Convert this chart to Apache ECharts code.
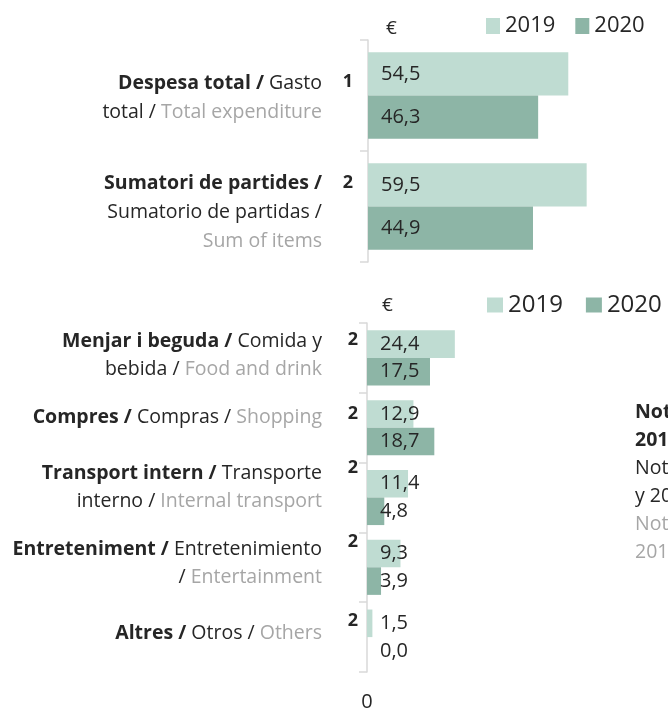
<!DOCTYPE html>
<html>
<head>
<meta charset="utf-8">
<script src="https://cdn.jsdelivr.net/npm/echarts@6/dist/echarts.min.js"></script>
<style>
  html, body { margin: 0; padding: 0; background: #ffffff; }
  #chart { width: 668px; height: 712px; }
</style>
</head>
<body>
<div id="chart"></div>
<script>
// ---- data ----
const years = ['2019', '2020'];

const totalCategories = ['Despesa total', 'Sumatori de partides'];
const total2019 = [54.5, 59.5];
const total2020 = [46.3, 44.9];

const itemCategories = ['Menjar i beguda', 'Compres', 'Transport intern', 'Entreteniment', 'Altres'];
const item2019 = [24.4, 12.9, 11.4, 9.3, 1.5];
const item2020 = [17.5, 18.7, 4.8, 3.9, 0.0];

// trilingual category captions (Catalan bold / Spanish / English grey)
const totalLabels = [
  '{b|Despesa total /} Gasto\ntotal / {g|Total expenditure}',
  '{b|Sumatori de partides /}\nSumatorio de partidas /\n{g|Sum of items}'
];
const itemLabels = [
  '{b|Menjar i beguda /} Comida y\nbebida / {g|Food and drink}',
  '{b|Compres /} Compras / {g|Shopping}',
  '{b|Transport intern /} Transporte\ninterno / {g|Internal transport}',
  '{b|Entreteniment /} Entretenimiento\n/ {g|Entertainment}',
  '{b|Altres /} Otros / {g|Others}'
];
const totalMarks = ['1', '2'];
const itemMarks = ['2', '2', '2', '2', '2'];
const itemAxisTicks = [0];

const noteLines = [
  ['b', 'Nota: despesa mitjana per persona,'],
  ['b', '2019 i 2020'],
  ['r', 'Nota: gasto medio por persona, 2019'],
  ['r', 'y 2020'],
  ['g', 'Note: average expenditure per person,'],
  ['g', '2019 and 2020']
];

// ---- styling ----
const FONT = '"Open Sans", "Noto Sans", sans-serif';
const DARK = '#262626';
const GREY = '#a6a6a6';
const AXIS = '#d9d9d9';
const C2019 = '#bfdcd2';
const C2020 = '#8db5a6';
const CAPTION_SIZE = 19.5;

// vertical nudges of the caption blocks relative to the band centre (px)
const totalLabelShift = [2, 5.5];
const itemLabelShift = [-2, -10.5, -10, -4, -3.5];
const totalMarkShift = [-13.5, -23.5];
const itemMarkShift = [-18, -13.5, -30, -25.5, -16.5];

const fmt = v => v.toFixed(1).replace('.', ',');

const valueLabel = {
  show: true,
  position: 'insideLeft',
  distance: 13,
  color: DARK,
  fontFamily: FONT,
  fontSize: 20,
  formatter: p => fmt(p.value)
};

function yAxisFor(gridIndex, cats) {
  return {
    type: 'category',
    gridIndex,
    data: cats,
    inverse: true,
    axisLine: { show: true, lineStyle: { color: AXIS, width: 1.5 } },
    axisTick: { show: true, length: 8, lineStyle: { color: AXIS, width: 1.5 } },
    axisLabel: { show: false },
    splitLine: { show: false }
  };
}

const chart = echarts.init(document.getElementById('chart'), null, { renderer: 'canvas' });

chart.setOption({
  animation: false,
  backgroundColor: '#ffffff',
  grid: [
    { left: 368, top: 40, width: 294, height: 222 },
    { left: 367, top: 323, width: 288, height: 350 }
  ],
  legend: [
    {
      data: years, left: 486, top: 15, padding: 0, width: 200, orient: 'horizontal', icon: 'rect',
      itemWidth: 14, itemHeight: 16, itemGap: 20, selectedMode: false,
      textStyle: { fontFamily: FONT, fontSize: 22, color: DARK }
    },
    {
      data: years, left: 487, top: 293, padding: 0, width: 200, orient: 'horizontal', icon: 'rect',
      itemWidth: 16, itemHeight: 15, itemGap: 23, selectedMode: false,
      textStyle: { fontFamily: FONT, fontSize: 24, color: DARK }
    }
  ],
  xAxis: [
    {
      type: 'value', gridIndex: 0, min: 0, max: 80,
      axisLine: { show: false }, axisTick: { show: false },
      axisLabel: { show: false }, splitLine: { show: false }
    },
    {
      type: 'value', gridIndex: 1, min: 0, max: 80, interval: 80,
      axisLine: { show: false }, axisTick: { show: false }, splitLine: { show: false },
      axisLabel: {
        show: true, margin: 20, color: DARK, fontFamily: FONT, fontSize: 20,
        formatter: v => (itemAxisTicks.includes(v) ? String(v) : '')
      }
    }
  ],
  yAxis: [yAxisFor(0, totalCategories), yAxisFor(1, itemCategories)],
  series: [
    {
      name: years[0], type: 'bar', xAxisIndex: 0, yAxisIndex: 0, data: total2019,
      itemStyle: { color: C2019 }, barGap: '0%', barCategoryGap: '22%', label: valueLabel
    },
    {
      name: years[1], type: 'bar', xAxisIndex: 0, yAxisIndex: 0, data: total2020,
      itemStyle: { color: C2020 }, barGap: '0%', barCategoryGap: '22%', label: valueLabel
    },
    {
      name: years[0], type: 'bar', xAxisIndex: 1, yAxisIndex: 1, data: item2019,
      itemStyle: { color: C2019 }, barGap: '0%', barCategoryGap: '21%', label: valueLabel
    },
    {
      name: years[1], type: 'bar', xAxisIndex: 1, yAxisIndex: 1, data: item2020,
      itemStyle: { color: C2020 }, barGap: '0%', barCategoryGap: '21%', label: valueLabel
    }
  ]
});

// ---- captions, reference marks, currency signs and note ----
const rich = lh => ({
  b: { fontFamily: FONT, fontSize: CAPTION_SIZE, fontWeight: 'bold', fill: DARK, lineHeight: lh },
  g: { fontFamily: FONT, fontSize: CAPTION_SIZE, fill: GREY, lineHeight: lh }
});

function captions(yAxisIndex, cats, labels, shifts, marks, markShifts, markX, lh) {
  const out = [];
  cats.forEach((c, i) => {
    const yc = chart.convertToPixel({ yAxisIndex }, c);
    out.push({
      type: 'text', x: 322, y: yc + shifts[i], silent: true,
      style: {
        text: labels[i], rich: rich(lh), align: 'right', verticalAlign: 'middle',
        fontFamily: FONT, fontSize: CAPTION_SIZE, fill: DARK, lineHeight: lh
      }
    });
    out.push({
      type: 'text', x: markX, y: yc + markShifts[i], silent: true,
      style: {
        text: marks[i], align: 'right', verticalAlign: 'middle',
        fontFamily: FONT, fontSize: 18, fontWeight: 'bold', fill: DARK
      }
    });
  });
  return out;
}

const graphics = [
  ...captions(0, totalCategories, totalLabels, totalLabelShift, totalMarks, totalMarkShift, 353, 29),
  ...captions(1, itemCategories, itemLabels, itemLabelShift, itemMarks, itemMarkShift, 358, 28),
  {
    type: 'text', x: 386, y: 29, silent: true,
    style: { text: '€', verticalAlign: 'middle', fontFamily: FONT, fontSize: 19, fill: DARK }
  },
  {
    type: 'text', x: 382, y: 306, silent: true,
    style: { text: '€', verticalAlign: 'middle', fontFamily: FONT, fontSize: 19, fill: DARK }
  }
];

noteLines.forEach(([s, t], i) => {
  graphics.push({
    type: 'text', x: 635, y: 412 + i * 28, silent: true,
    style: {
      text: t, verticalAlign: 'middle', fontFamily: FONT, fontSize: CAPTION_SIZE,
      fontWeight: s === 'b' ? 'bold' : 'normal', fill: s === 'g' ? GREY : DARK
    }
  });
});

chart.setOption({ graphic: graphics });
</script>
</body>
</html>
